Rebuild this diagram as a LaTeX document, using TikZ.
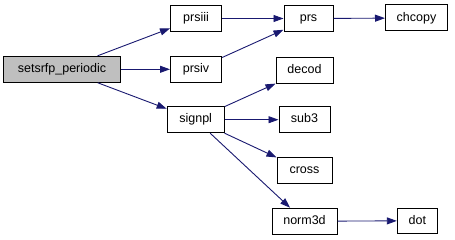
\documentclass[tikz,border=0pt]{standalone}
\usepackage{fontspec}
\setmainfont{Liberation Sans}
\usetikzlibrary{arrows.meta}
\definecolor{edgeblue}{HTML}{191970}
\definecolor{rootgray}{HTML}{BFBFBF}
\begin{document}
\begin{tikzpicture}[x=1pt,y=-1pt,
  fn/.style={draw=black, line width=1pt, fill=white, inner sep=0pt,
    font=\fontsize{12.5}{14}\selectfont, text height=9pt, text depth=2.5pt},
  root/.style={fn, fill=rootgray},
  call/.style={draw=edgeblue, line width=0.9pt,
    -{Triangle[length=10pt,width=7pt]}}]
\useasboundingbox (0,0) rectangle (455,240);
% function boxes: centre, width, height
\node[root, minimum width=117pt, minimum height=26pt] (setsrfp) at (62,69.3) {setsrfp\_periodic};
\node[fn, minimum width=51pt, minimum height=26pt] (prsiii) at (196,18.5) {prsiii};
\node[fn, minimum width=51pt, minimum height=26pt] (prsiv) at (196,69.3) {prsiv};
\node[fn, minimum width=57pt, minimum height=26pt] (signpl) at (195.7,119.7) {signpl};
\node[fn, minimum width=49pt, minimum height=26pt] (prs) at (308.5,18.5) {prs};
\node[fn, minimum width=62pt, minimum height=26pt] (chcopy) at (416.5,18) {chcopy};
\node[fn, minimum width=57pt, minimum height=26pt] (decod) at (304.5,70.5) {decod};
\node[fn, minimum width=51pt, minimum height=26pt] (sub3) at (304.5,119.7) {sub3};
\node[fn, minimum width=55pt, minimum height=26pt] (cross) at (304.5,170.5) {cross};
\node[fn, minimum width=65pt, minimum height=26pt] (norm3d) at (304.5,221.2) {norm3d};
\node[fn, minimum width=40pt, minimum height=25pt] (dot) at (417.3,220.8) {dot};
% call edges
\draw[call] (setsrfp) -- (prsiii);
\draw[call] (setsrfp) -- (prsiv);
\draw[call] (setsrfp) -- (signpl);
\draw[call] (prsiii) -- (prs);
\draw[call] (prsiv) -- (prs);
\draw[call] (prs) -- (chcopy);
\draw[call] (signpl) -- (decod);
\draw[call] (signpl) -- (sub3);
\draw[call] (signpl) -- (cross);
\draw[call] (signpl) -- (norm3d);
\draw[call] (norm3d) -- (dot);
\end{tikzpicture}
\end{document}
